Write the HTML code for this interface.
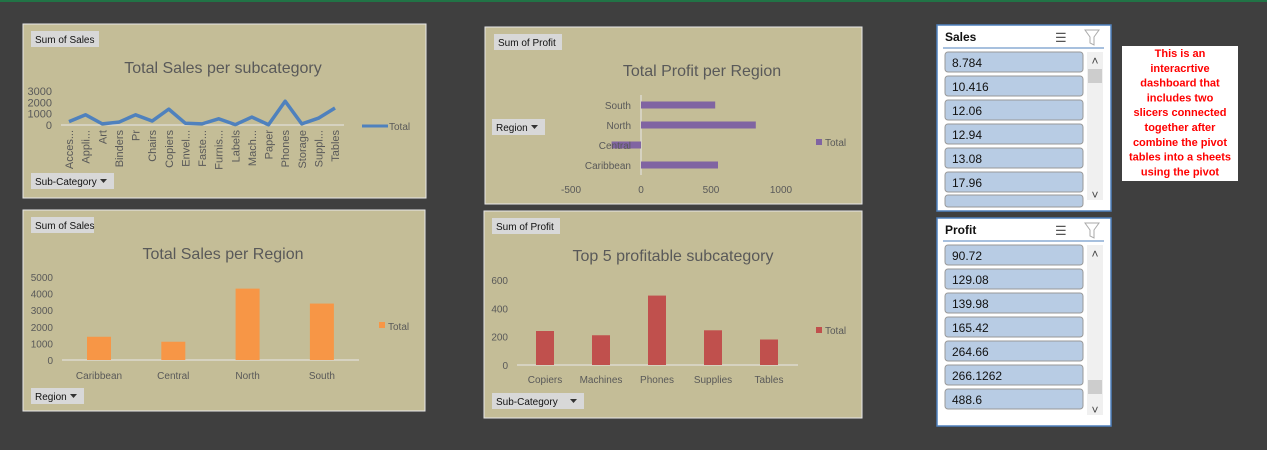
<!DOCTYPE html>
<html><head><meta charset="utf-8"><style>
body{margin:0;background:#3f3f3f;width:1267px;height:445px;overflow:hidden;font-family:"Liberation Sans",sans-serif}
svg text{font-family:"Liberation Sans",sans-serif}
</style></head><body>
<svg id="s" width="1267" height="445" xmlns="http://www.w3.org/2000/svg">
<rect x="0" y="0" width="1267" height="2" fill="#217346"/>
</svg>
<script>
const subCats=["Acces...","Appli...","Art","Binders","Pr","Chairs","Copiers","Envel...","Faste...","Furnis...","Labels","Mach...","Paper","Phones","Storage","Suppl...","Tables"];
const subSales=[300,900,100,250,900,350,1400,150,100,550,30,700,20,2100,100,600,1500];
const salesTicks=[0,1000,2000,3000];
const regions=["Caribbean","Central","North","South"];
const regionSales=[1400,1100,4300,3400];
const regionSalesTicks=[0,1000,2000,3000,4000,5000];
const profRegions=["South","North","Central","Caribbean"];
const profRegionVals=[530,820,-210,550];
const profTicks=[-500,0,500,1000];
const topCats=["Copiers","Machines","Phones","Supplies","Tables"];
const topProfit=[240,210,490,245,180];
const topTicks=[0,200,400,600];
const salesSlicer=["8.784","10.416","12.06","12.94","13.08","17.96","18.84"];
const profitSlicer=["90.72","129.08","139.98","165.42","264.66","266.1262","488.6"];

const S=document.getElementById('s');const NS="http://www.w3.org/2000/svg";
function el(t,a,p){const e=document.createElementNS(NS,t);for(const k in a)e.setAttribute(k,a[k]);(p||S).appendChild(e);return e;}
function tx(x,y,s,a,p){const e=el('text',Object.assign({x:x,y:y},a),p);e.textContent=s;return e;}
function panel(x,y,w,h,name){const g=el('g',{});
el('rect',{x:x,y:y,width:w,height:h,fill:'#c4bd97',stroke:'#e8e8e8','stroke-width':1},g);return g;}
function btn(g,x,y,w,label,name,arrow){const b=el('g',{},g);
el('rect',{x:x,y:y,width:w,height:16,fill:'#d8d8d8'},b);tx(x+4,y+12,label,{'font-size':10,fill:'#111'},b);
if(arrow){el('path',{d:`M${x+w-14} ${y+6}h7l-3.5 4z`,fill:'#333'},b);}}
function title(g,x,y,s){const t=tx(x,y,s,{'font-size':16,fill:'#595959','text-anchor':'middle'},g);}

// Chart 1
let g=panel(23,24,403,174,'sales-subcategory-chart');
btn(g,31,31,68,'Sum of Sales','sum-of-sales-button',false);
btn(g,31,173,83,'Sub-Category','sub-category-filter',true);
title(g,223,73,'Total Sales per subcategory');
{const y=v=>125-v*34/3000, x=i=>69+i*(335-69)/16;
el('line',{x1:61,x2:344,y1:125,y2:125,stroke:'#e8e8e8'},g);
salesTicks.forEach(v=>tx(52,y(v)+4,v,{'font-size':11,fill:'#595959','text-anchor':'end'},g));
const ln=el('polyline',{points:subSales.map((v,i)=>x(i)+','+y(v)).join(' '),fill:'none',stroke:'#4f81bd','stroke-width':3.5,'stroke-linejoin':'round'},g);

subCats.forEach((c,i)=>{tx(0,0,c,{'font-size':11,fill:'#595959','text-anchor':'end',transform:`translate(${x(i)+4},130) rotate(-90)`},g);});
el('line',{x1:362,x2:388,y1:126,y2:126,stroke:'#4f81bd','stroke-width':3},g);
tx(389,130,'Total',{'font-size':10,fill:'#595959'},g);}

// Chart 2
g=panel(23,210,402,201,'sales-region-chart');
btn(g,31,217,63,'Sum of Sales','sum-of-sales-button-2',false);
btn(g,31,388,53,'Region','region-filter',true);
title(g,223,259,'Total Sales per Region');
{const y=v=>360-v*83/5000, x=i=>99+i*74.3;
el('line',{x1:62,x2:359,y1:360,y2:360,stroke:'#e8e8e8'},g);
regionSalesTicks.forEach(v=>tx(53,y(v)+4,v,{'font-size':10,fill:'#595959','text-anchor':'end'},g));
regionSales.forEach((v,i)=>{const r=el('rect',{x:x(i)-12,y:y(v),width:24,height:360-y(v),fill:'#f79646'},g);
tx(x(i),379,regions[i],{'font-size':10,fill:'#595959','text-anchor':'middle'},g);});
el('rect',{x:379,y:322,width:6,height:6,fill:'#f79646'},g);tx(388,330,'Total',{'font-size':10,fill:'#595959'},g);}

// Chart 3
g=panel(485,27,377,177,'profit-region-chart');
btn(g,494,34,68,'Sum of Profit','sum-of-profit-button',false);
btn(g,492,119,53,'Region','region-filter-2',true);
title(g,702,76,'Total Profit per Region');
{const x=v=>641+v*0.14, y=i=>105+i*20;
el('line',{x1:641,x2:641,y1:95,y2:175,stroke:'#e8e8e8'},g);
profRegionVals.forEach((v,i)=>{const r=el('rect',{x:Math.min(x(0),x(v)),y:y(i)-3.5,width:Math.abs(x(v)-x(0)),height:7,fill:'#8064a2'},g);
tx(631,y(i)+4,profRegions[i],{'font-size':10,fill:'#595959','text-anchor':'end'},g);});
profTicks.forEach(v=>tx(x(v),193,v,{'font-size':10,fill:'#595959','text-anchor':'middle'},g));
el('rect',{x:816,y:139,width:6,height:6,fill:'#8064a2'},g);tx(825,146,'Total',{'font-size':10,fill:'#595959'},g);}

// Chart 4
g=panel(484,211,378,207,'top5-profit-chart');
btn(g,492,218,68,'Sum of Profit','sum-of-profit-button-2',false);
btn(g,492,393,92,'Sub-Category','sub-category-filter-2',true);
title(g,673,261,'Top 5 profitable subcategory');
{const y=v=>365-v*85/600, x=i=>545+i*56;
el('line',{x1:517,x2:798,y1:365,y2:365,stroke:'#e8e8e8'},g);
topTicks.forEach(v=>tx(508,y(v)+4,v,{'font-size':10,fill:'#595959','text-anchor':'end'},g));
topProfit.forEach((v,i)=>{const r=el('rect',{x:x(i)-9,y:y(v),width:18,height:365-y(v),fill:'#c0504d'},g);
tx(x(i),383,topCats[i],{'font-size':10,fill:'#595959','text-anchor':'middle'},g);});
el('rect',{x:816,y:327,width:6,height:6,fill:'#c0504d'},g);tx(825,334,'Total',{'font-size':10,fill:'#595959'},g);}

// Slicers
function slicer(x,y,h,name,label,items,thumbY){const g=el('g',{});
el('rect',{x:x,y:y,width:174,height:h,fill:'#fff',stroke:'#4f81bd','stroke-width':1.5},g);
tx(x+8,y+16,label,{'font-size':12,'font-weight':'bold',fill:'#111'},g);
tx(x+118,y+17,'☰',{'font-size':13,fill:'#555'},g);
el('path',{d:`M${x+148} ${y+5}h14l-5 7v8l-4-2v-6z`,fill:'none',stroke:'#aaa'},g);
el('line',{x1:x+6,x2:x+167,y1:y+23,y2:y+23,stroke:'#4f81bd'},g);
el('rect',{x:x+150,y:y+27,width:16,height:h-38,fill:'#f0f0f0'},g);
el('rect',{x:x+151,y:thumbY,width:14,height:14,fill:'#cdcdcd'},g);
tx(x+158,y+40,'˄',{'font-size':12,fill:'#444','text-anchor':'middle'},g);
tx(x+158,y+h-12,'˅',{'font-size':12,fill:'#444','text-anchor':'middle'},g);
items.forEach((s,i)=>{const iy=y+27+i*24;if(iy+20>y+h-4){return;}
const it=el('g',{},g);
el('rect',{x:x+8,y:iy,width:138,height:20,rx:3,fill:'#b8cce4',stroke:'#999'},it);
tx(x+15,iy+15,s,{'font-size':12,fill:'#111'},it);});
return g;}
slicer(937,25,186,'sales-slicer','Sales',salesSlicer,69);
const pi=el('rect',{x:945,y:195,width:138,height:12,rx:3,fill:'#b8cce4',stroke:'#999'});


slicer(937,218,208,'profit-slicer','Profit',profitSlicer,380);

// note
const ng=el('g',{});
el('rect',{x:1122,y:46,width:116,height:135,fill:'#fff'},ng);
["This is an","interacrtive","dashboard that","includes two","slicers connected","together after","combine the pivot","tables into a sheets","using the pivot"].forEach((l,i)=>tx(1180,57+i*14.8,l,{'font-size':11,'font-weight':'bold',fill:'#ff0000','text-anchor':'middle'},ng));
</script>
</body></html>
